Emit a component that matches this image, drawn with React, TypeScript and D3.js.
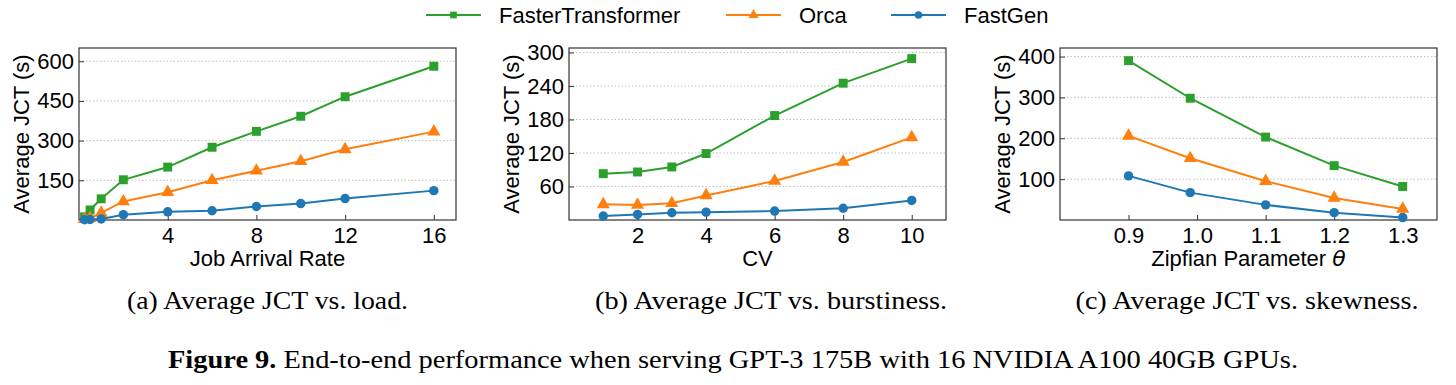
import React, { useEffect, useRef } from 'react';
import * as d3 from 'd3';

// series shared by all three panels
const seriesNames = ['FasterTransformer', 'Orca', 'FastGen'];
const seriesColors = ['#2ca02c', '#ff7f0e', '#1f77b4'];
const seriesSymbols = [d3.symbolSquare, d3.symbolTriangle, d3.symbolCircle];

// (a) load
const loadRates = [0.25, 0.5, 1, 2, 4, 6, 8, 10, 12, 16];
const loadFT = [12, 38, 80, 152, 200, 275, 335, 392, 466, 581];
const loadOrca = [3, 7, 27, 70, 105, 150, 186, 222, 267, 334];
const loadFastGen = [1, 2, 4, 20, 31, 35, 51, 62, 81, 111];
const loadXTicks = [4, 8, 12, 16];
const loadYTicks = [150, 300, 450, 600];

// (b) burstiness
const cvValues = [1, 2, 3, 4, 6, 8, 10];
const cvFT = [83, 86, 95, 119, 187, 245, 289];
const cvOrca = [28, 27, 30, 44, 70, 104, 148];
const cvFastGen = [7, 10, 13, 14, 16, 21, 35];
const cvXTicks = [2, 4, 6, 8, 10];
const cvYTicks = [60, 120, 180, 240, 300];

// (c) skewness
const zipfThetas = [0.9, 0.99, 1.1, 1.2, 1.3];
const zipfFT = [390, 298, 203, 133, 82];
const zipfOrca = [206, 151, 95, 54, 27];
const zipfFastGen = [108, 67, 37, 18, 6];
const zipfXTicks = [0.9, 1.0, 1.1, 1.2, 1.3];
const zipfYTicks = [100, 200, 300, 400];

const captions = [
  '(a) Average JCT vs. load.',
  '(b) Average JCT vs. burstiness.',
  '(c) Average JCT vs. skewness.',
];

const panels = [
  { x: loadRates, series: [loadFT, loadOrca, loadFastGen], xDomain: [0, 17], yDomain: [0, 650],
    xTicks: loadXTicks, yTicks: loadYTicks, xLabel: 'Job Arrival Rate', fmt: d3.format('d') },
  { x: cvValues, series: [cvFT, cvOrca, cvFastGen], xDomain: [0, 11], yDomain: [0, 308],
    xTicks: cvXTicks, yTicks: cvYTicks, xLabel: 'CV', fmt: d3.format('d') },
  { x: zipfThetas, series: [zipfFT, zipfOrca, zipfFastGen], xDomain: [0.8, 1.35], yDomain: [0, 421],
    xTicks: zipfXTicks, yTicks: zipfYTicks, xLabel: 'Zipfian Parameter', fmt: d3.format('.1f') },
];

// layout
const W = 1456;
const H = 385;
const panelLefts = [79, 569, 1060];
const panelW = 377;
const top = 48;
const bottom = 220;
const captionCenters = [267.5, 771, 1247];
const captionWidths = [281, 352, 343];
const legendX = [426, 726, 891];
const sans = 'Liberation Sans, Arial, Helvetica, sans-serif';
const serif = 'Liberation Serif, Times New Roman, serif';
const markerSizes = [80, 75, 70];

const App = () => {
  const svgRef = useRef<SVGSVGElement>(null);

  useEffect(() => {
    const svg = d3.select(svgRef.current);
    svg.selectAll('*').remove();

    svg.append('rect').attr('width', W).attr('height', H).attr('fill', 'white');

    // legend
    const legend = svg.append('g').attr('transform', 'translate(0,15)');
    seriesNames.forEach((name, i) => {
      const g = legend.append('g').attr('transform', `translate(${legendX[i]},0)`);
      g.append('line').attr('x1', 0).attr('x2', 55).attr('y1', 0).attr('y2', 0)
        .attr('stroke', seriesColors[i]).attr('stroke-width', 2);
      g.append('path').attr('transform', 'translate(27.5,0)')
        .attr('d', d3.symbol().type(seriesSymbols[i]).size(45)())
        .attr('fill', seriesColors[i]);
      g.append('text').attr('x', 73).attr('dy', '0.35em')
        .attr('font-family', sans).attr('font-size', 22).attr('fill', '#000')
        .text(name);
    });

    panels.forEach((p, pi) => {
      const left = panelLefts[pi];
      const x = d3.scaleLinear().domain(p.xDomain).range([left, left + panelW]);
      const y = d3.scaleLinear().domain(p.yDomain).range([bottom, top]);
      const g = svg.append('g');

      // dotted horizontal grid
      g.selectAll('.grid').data(p.yTicks).enter().append('line')
        .attr('x1', left).attr('x2', left + panelW)
        .attr('y1', d => y(d)).attr('y2', d => y(d))
        .attr('stroke', '#b0b0b0').attr('stroke-width', 0.8).attr('stroke-dasharray', '1.5,2');

      // axes with inward ticks
      const yAxis = g.append('g').attr('transform', `translate(${left},0)`)
        .call(d3.axisLeft(y).tickValues(p.yTicks).tickSize(-5).tickPadding(5).tickFormat(d3.format('d')));
      const xAxis = g.append('g').attr('transform', `translate(0,${bottom})`)
        .call(d3.axisBottom(x).tickValues(p.xTicks).tickSize(-5).tickPadding(7).tickFormat(p.fmt));
      [xAxis, yAxis].forEach(a => {
        a.select('.domain').remove();
        a.selectAll('line').attr('stroke', '#333');
        a.selectAll('text').attr('font-family', sans).attr('font-size', 22).attr('fill', '#000');
      });

      // frame
      g.append('rect').attr('x', left).attr('y', top).attr('width', panelW).attr('height', bottom - top)
        .attr('fill', 'none').attr('stroke', '#333').attr('stroke-width', 1.2);

      // series lines + markers
      p.series.forEach((vals, si) => {
        const pts = vals.map((v, k) => [p.x[k], v] as [number, number]);
        g.append('path').datum(pts)
          .attr('d', d3.line().x(d => x(d[0])).y(d => y(d[1])))
          .attr('fill', 'none').attr('stroke', seriesColors[si]).attr('stroke-width', 2);
        const sym = d3.symbol().type(seriesSymbols[si]).size(markerSizes[si]);
        g.selectAll(`.m${si}`).data(pts).enter().append('path')
          .attr('transform', d => `translate(${x(d[0])},${y(d[1])})`)
          .attr('d', sym())
          .attr('fill', seriesColors[si]);
      });

      // axis labels
      const xl = g.append('text').attr('x', left + panelW / 2).attr('y', bottom + 46)
        .attr('text-anchor', 'middle').attr('font-family', sans).attr('font-size', 22).attr('fill', '#000')
        .text(p.xLabel);
      if (pi === 2) {
        xl.append('tspan').text(' ');
        xl.append('tspan').attr('font-family', 'DejaVu Sans, sans-serif').attr('font-style', 'italic').text('θ');
      }
      g.append('text')
        .attr('transform', `translate(${left - 50},${(top + bottom) / 2}) rotate(-90)`)
        .attr('text-anchor', 'middle').attr('font-family', sans).attr('font-size', 22).attr('fill', '#000')
        .text('Average JCT (s)');

      // sub-caption
      svg.append('text').attr('x', captionCenters[pi]).attr('y', 309)
        .attr('text-anchor', 'middle').attr('font-family', serif).attr('font-size', 25).attr('fill', '#000')
        .attr('textLength', captionWidths[pi]).attr('lengthAdjust', 'spacingAndGlyphs')
        .text(captions[pi]);
    });

    // figure caption
    const fc = svg.append('text').attr('x', 168).attr('y', 368)
      .attr('font-family', serif).attr('font-size', 25).attr('fill', '#000')
      .attr('textLength', 1130).attr('lengthAdjust', 'spacingAndGlyphs');
    fc.append('tspan').attr('font-weight', 'bold').text('Figure 9.');
    fc.append('tspan').text(' End-to-end performance when serving GPT-3 175B with 16 NVIDIA A100 40GB GPUs.');
  }, []);

  return (
    <svg ref={svgRef} width={W} height={H}
      style={{ position: 'absolute', left: 0, top: 0, display: 'block' }} />
  );
};

export default App;
